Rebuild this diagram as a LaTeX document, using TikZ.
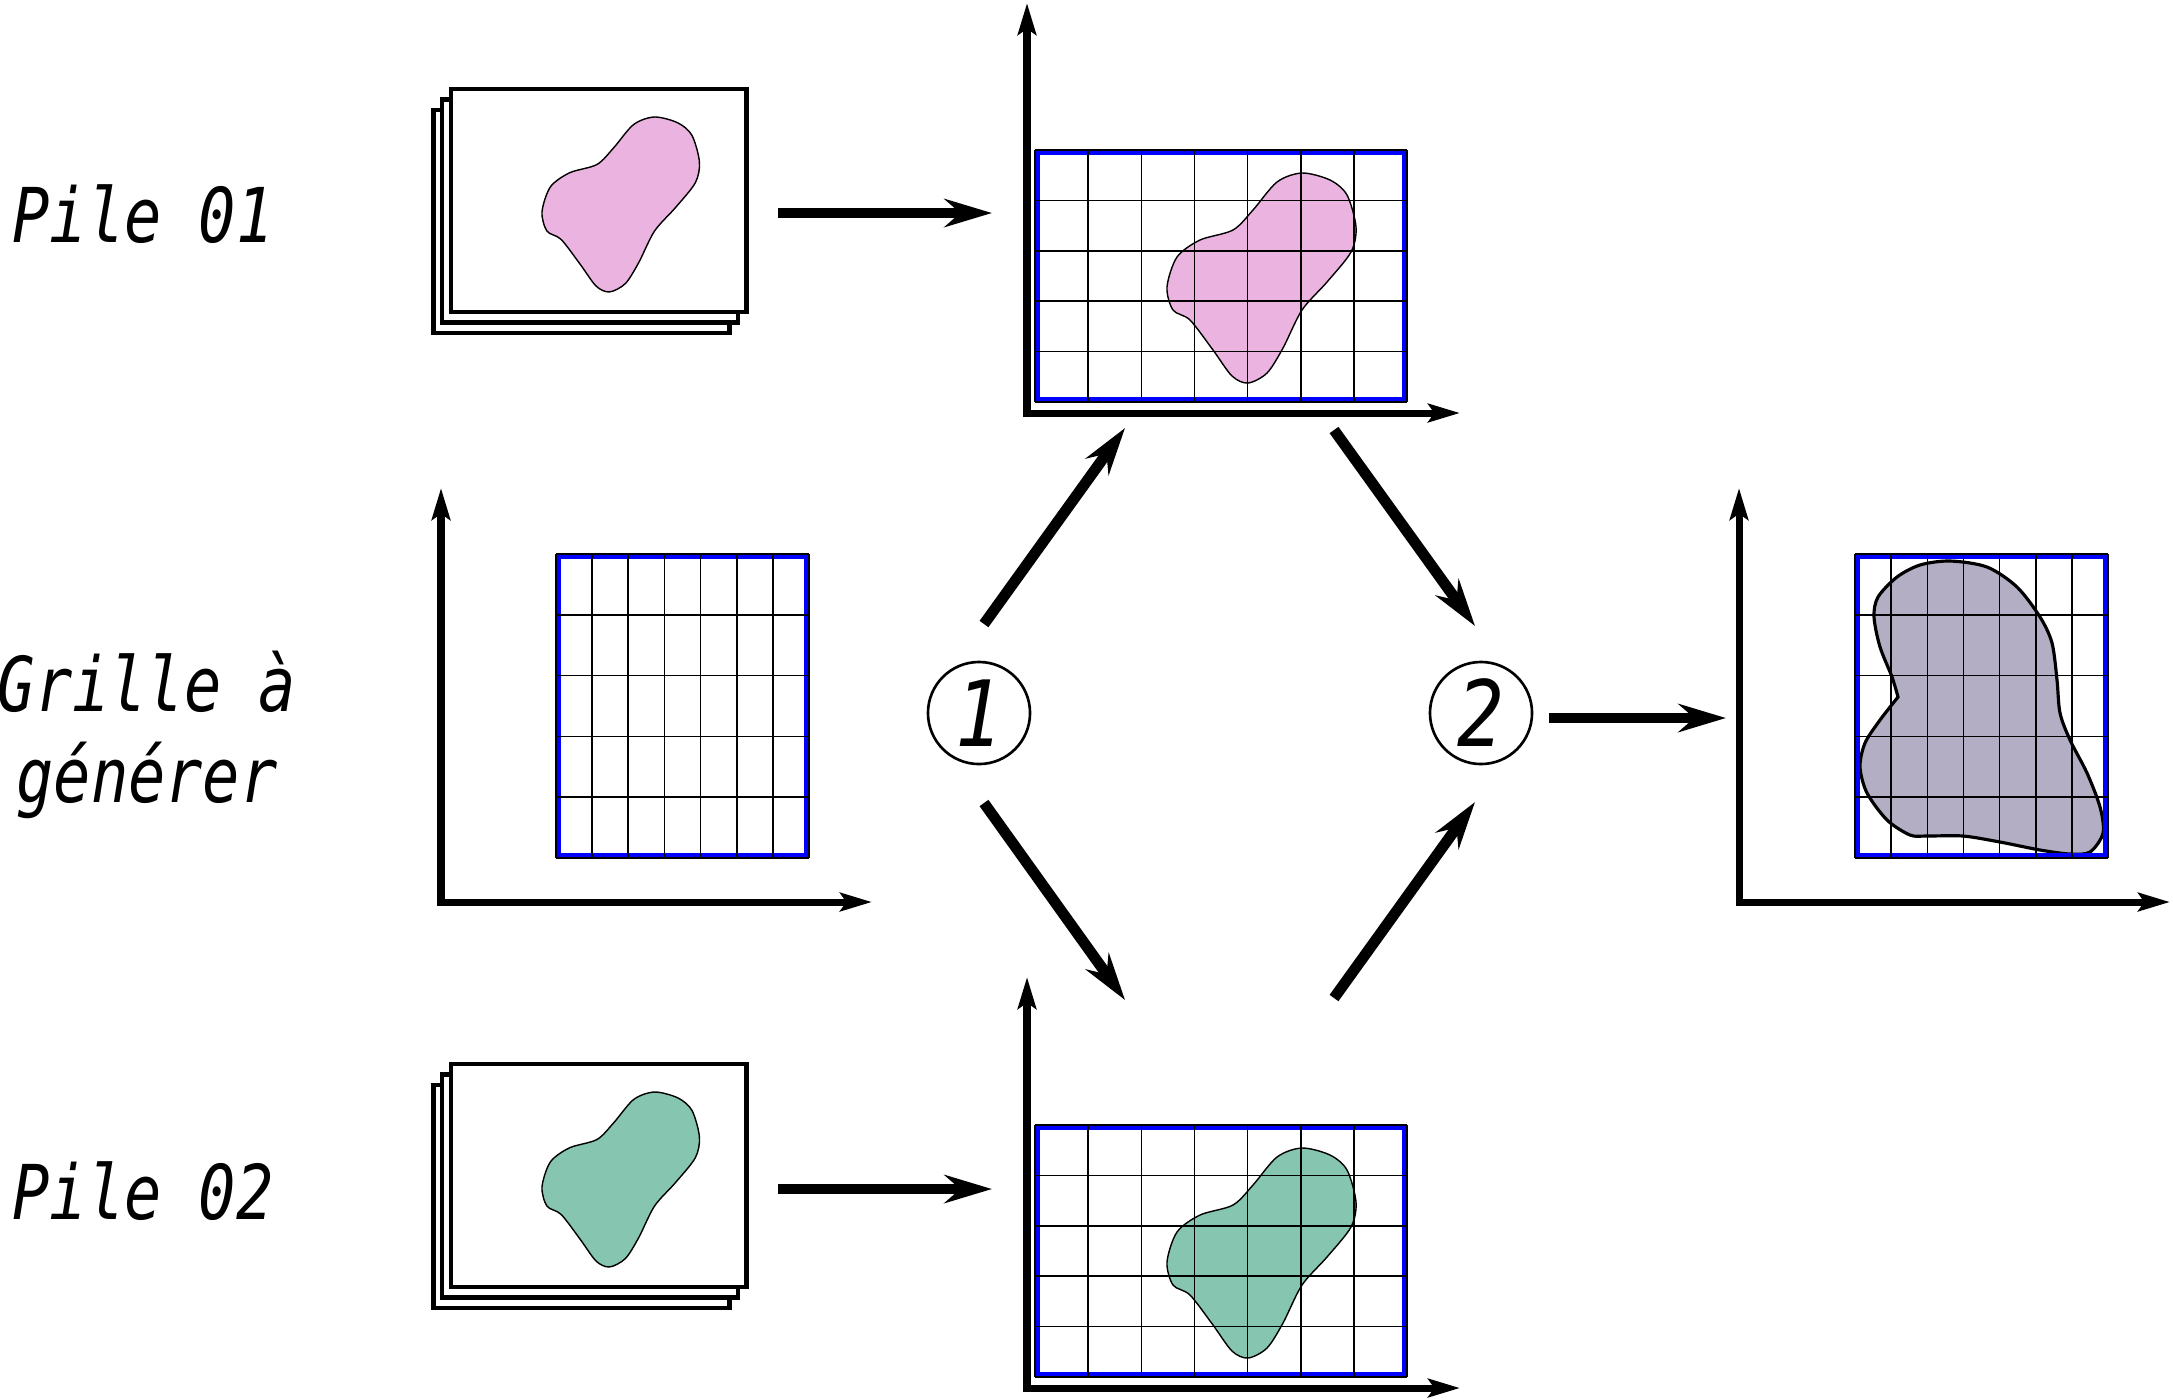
\documentclass[tikz,border=0pt]{standalone}
\usepackage{fontspec}
\usetikzlibrary{arrows.meta}
\newfontfamily\etiquette[FakeStretch=0.82]{DejaVu Sans Mono}
\newfontfamily\chiffre[FakeStretch=0.85]{DejaVu Sans Mono}

\definecolor{rose}{HTML}{EBB3DF}
\definecolor{vert}{HTML}{86C5B0}
\definecolor{mauve}{HTML}{B4AEC4}

\tikzset{
  axe/.style={line width=2pt,{Stealth[length=9pt,width=5.2pt,inset=1.7pt]}-{Stealth[length=9pt,width=5.2pt,inset=1.7pt]}},
  fleche/.style={line width=3.1pt,-{Stealth[length=13.5pt,width=8pt,inset=4.5pt]}},
  feuille/.style={draw,fill=white,line width=1.3pt},
  cadre/.style={draw=blue,line width=1.4pt},
  fil/.style={line width=0.45pt},
  etape/.style={circle,draw,line width=0.75pt,minimum size=1.02cm,inner sep=0pt,font=\chiffre\itshape\fontsize{26pt}{26pt}\selectfont},
  titre/.style={align=center,font=\etiquette\itshape\fontsize{21.5pt}{25.6pt}\selectfont},
  tache/.pic={\path[pic actions] plot[smooth cycle] coordinates {(135,0) (163,7) (180,22) (189,54) (184,79) (160,109) (135,137) (116,175) (100,200) (81,210) (65,203) (46,177) (23,147) (6,137) (0,114) (10,84) (33,67) (66,57) (86,37) (110,9)};}
}

\begin{document}
\begin{tikzpicture}[x=0.01cm,y=-0.01cm]
    \useasboundingbox (0,0) rectangle (2173,1399);

    \node[titre,anchor=base] (pile1) at (143,242) {Pile 01};
    \node[titre,anchor=base] (grille) at (147,802) {Grille à\\générer};
    \node[titre,anchor=base] (pile2) at (143,1219) {Pile 02};

    \draw[feuille] (433.5,110) rectangle (729.5,333);
    \draw[feuille] (442,99.5) rectangle (738,322.5);
    \draw[feuille] (451,89) rectangle (746.5,312);
    \pic[fill=rose,draw,line width=0.4pt,scale=0.833] at (542,117) {tache};

    \draw[feuille] (433.5,1085) rectangle (729.5,1308);
    \draw[feuille] (442,1074.5) rectangle (738,1297.5);
    \draw[feuille] (451,1064) rectangle (746.5,1287);
    \pic[fill=vert,draw,line width=0.4pt,scale=0.833] at (542,1092) {tache};

    \draw[axe] (1027,3) |- (1460,413);
    \pic[fill=rose,draw,line width=0.4pt] at (1167,173) {tache};
    \draw[cadre] (1037.5,152.5) rectangle (1404.5,399.5);
    \foreach \k in {0,...,7} \draw[fil] ({1035+53.14*\k},150) -- ({1035+53.14*\k},402);
    \foreach \k in {0,...,5} \draw[fil] (1035,{150+50.4*\k}) -- (1407,{150+50.4*\k});

    \draw[axe] (1027,977) |- (1460,1388);
    \pic[fill=vert,draw,line width=0.4pt] at (1167,1148) {tache};
    \draw[cadre] (1037.5,1127.5) rectangle (1404.5,1374.5);
    \foreach \k in {0,...,7} \draw[fil] ({1035+53.14*\k},1125) -- ({1035+53.14*\k},1377);
    \foreach \k in {0,...,5} \draw[fil] (1035,{1125+50.4*\k}) -- (1407,{1125+50.4*\k});

    \draw[axe] (441,488) |- (872,902);
    \draw[cadre] (558.5,556.5) rectangle (806.5,855.5);
    \foreach \k in {0,...,7} \draw[fil] ({556+36.14*\k},554) -- ({556+36.14*\k},858);
    \foreach \k in {0,...,5} \draw[fil] (556,{554+60.8*\k}) -- (809,{554+60.8*\k});

    \draw[axe] (1739,488) |- (2170,902);
    \filldraw[fill=mauve,line width=0.9pt] plot[smooth] coordinates {(1898,697) (1892,677) (1880,647) (1874,617) (1878,597) (1897,577) (1920,565) (1950,561) (1987,567) (2017,587) (2040,617) (2052,643) (2057,680) (2060,713) (2070,740) (2087,773) (2100,807) (2103,833) (2090,852) (2070,854) (2040,850) (2000,842) (1963,836) (1927,836) (1910,835) (1887,820) (1867,793) (1860,767) (1865,743) (1880,720) (1898,697)} -- cycle;
    \draw[cadre] (1857.5,556.5) rectangle (2105.5,855.5);
    \foreach \k in {0,...,7} \draw[fil] ({1855+36.14*\k},554) -- ({1855+36.14*\k},858);
    \foreach \k in {0,...,5} \draw[fil] (1855,{554+60.8*\k}) -- (2108,{554+60.8*\k});

    \node[etape] (un) at (979,713) {1};
    \node[etape] (deux) at (1481,713) {2};

    \coordinate (p1d) at (778,213);
    \coordinate (p1f) at (992,213);
    \coordinate (p2d) at (778,1189);
    \coordinate (p2f) at (992,1189);
    \coordinate (haut1) at (984,624);
    \coordinate (haut2) at (1125,428);
    \coordinate (haut3) at (1334,430);
    \coordinate (haut4) at (1475,626);
    \coordinate (bas1) at (984,803);
    \coordinate (bas2) at (1125,1000);
    \coordinate (bas3) at (1334,998);
    \coordinate (bas4) at (1475,802);
    \coordinate (fd) at (1549,718);
    \coordinate (ff) at (1726,718);

    \draw[fleche] (p1d) -- (p1f);
    \draw[fleche] (p2d) -- (p2f);
    \draw[fleche] (haut1) -- (haut2);
    \draw[fleche] (haut3) -- (haut4);
    \draw[fleche] (bas1) -- (bas2);
    \draw[fleche] (bas3) -- (bas4);
    \draw[fleche] (fd) -- (ff);
\end{tikzpicture}
\end{document}
